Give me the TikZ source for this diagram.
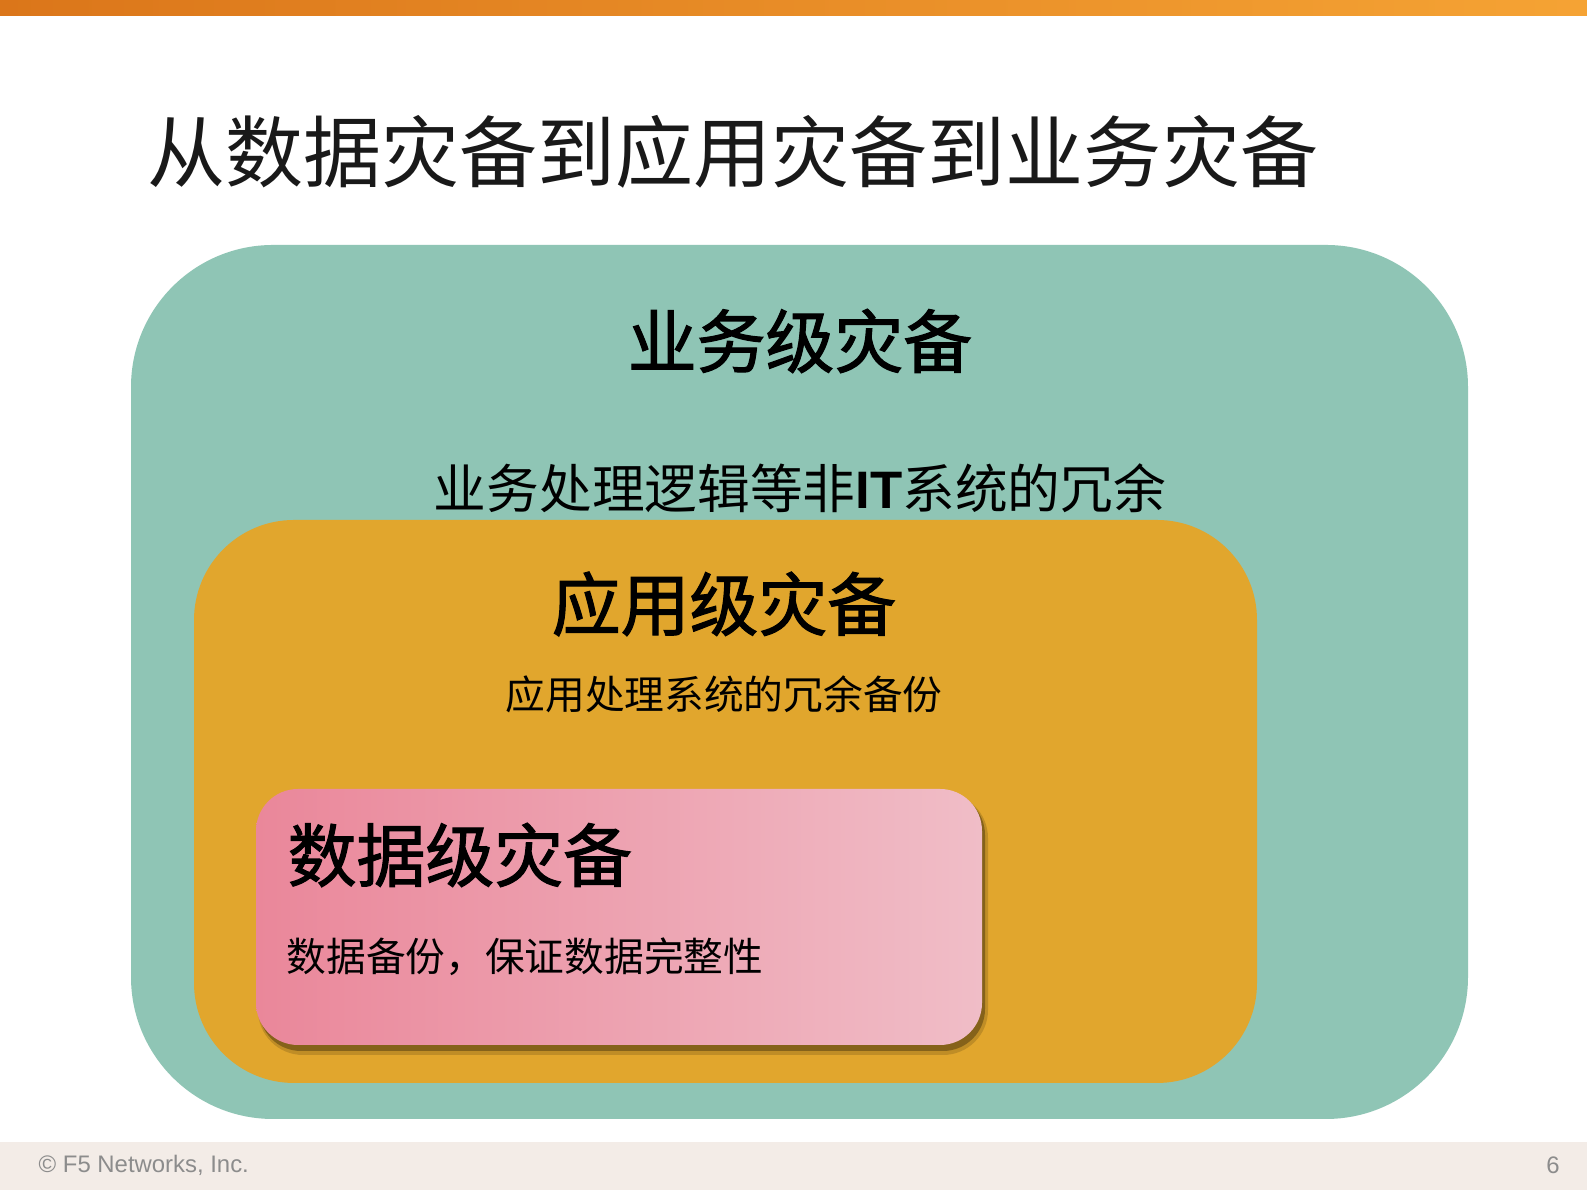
\documentclass[tikz,border=0pt]{standalone}
\usepackage{fontspec}
\newfontfamily\cjk{Noto Sans CJK SC}
\newfontfamily\cjkheavy[FakeBold=1.6]{Noto Sans CJK SC}
\newfontfamily\arial{Liberation Sans}
\definecolor{barleft}{HTML}{DB761A}
\definecolor{barright}{HTML}{F5A334}
\definecolor{tealbox}{HTML}{8FC5B5}
\definecolor{orangebox}{HTML}{E1A62D}
\definecolor{pinkleft}{HTML}{EA879A}
\definecolor{pinkright}{HTML}{F0BDC7}
\definecolor{footbg}{HTML}{F3ECE7}
\definecolor{footgray}{HTML}{8C8C8C}
\tikzset{
    slidetitle/.style={inner sep=0pt, text=black!90, font=\cjk\fontsize{22.2pt}{26pt}\selectfont},
    levelname/.style={inner sep=0pt, font=\cjkheavy\fontsize{19.6pt}{23pt}\selectfont},
    levelnote/.style={inner sep=0pt, font=\cjk\fontsize{11.3pt}{14pt}\selectfont},
    footnote/.style={inner sep=0pt, text=footgray, font=\arial\fontsize{6.8pt}{8pt}\selectfont}
}
\begin{document}
\begin{tikzpicture}
                \useasboundingbox (0, 0) rectangle (15.87, 11.90);
                \fill [white] (0, 0) rectangle (15.87, 11.90);
                \shade [left color=barleft, right color=barright] (0, 11.74) rectangle (15.87, 11.90);
                \fill [footbg] (0, 0) rectangle (15.87, 0.48);
                \node [slidetitle, anchor=west] (title) at (1.47, 10.38) {从数据灾备到应用灾备到业务灾备};
                \fill [tealbox, rounded corners=1.42cm] (1.31, 0.71) rectangle (14.68, 9.45);
                \node [levelname] (bizname) at (8.00, 8.49) {业务级灾备};
                \node [inner sep=0pt, font=\cjk\fontsize{15pt}{18pt}\selectfont] (biznote) at (8.00, 7.02) {业务处理逻辑等非\textbf{\arial IT}系统的冗余};
                \fill [orangebox, rounded corners=1.0cm] (1.94, 1.07) rectangle (12.57, 6.70);
                \node [levelname] (appname) at (7.24, 5.86) {应用级灾备};
                \node [levelnote] (appnote) at (7.24, 4.96) {应用处理系统的冗余备份};
                \fill [black, opacity=0.15, rounded corners=0.45cm] (2.58, 1.35) rectangle (9.88, 3.97);
                \fill [black, opacity=0.3, rounded corners=0.42cm] (2.59, 1.39) rectangle (9.85, 3.97);
                \shade [left color=pinkleft, right color=pinkright, rounded corners=0.42cm] (2.56, 1.45) rectangle (9.82, 4.01);
                \node [levelname, anchor=west] (dataname) at (2.87, 3.35) {数据级灾备};
                \node [levelnote, anchor=west] (datanote) at (2.86, 2.33) {数据备份，保证数据完整性};
                \node [footnote, anchor=west] (copyright) at (0.38, 0.25) {© F5 Networks, Inc.};
                \node [footnote] (pagenum) at (15.53, 0.25) {6};
            \end{tikzpicture}
\end{document}
